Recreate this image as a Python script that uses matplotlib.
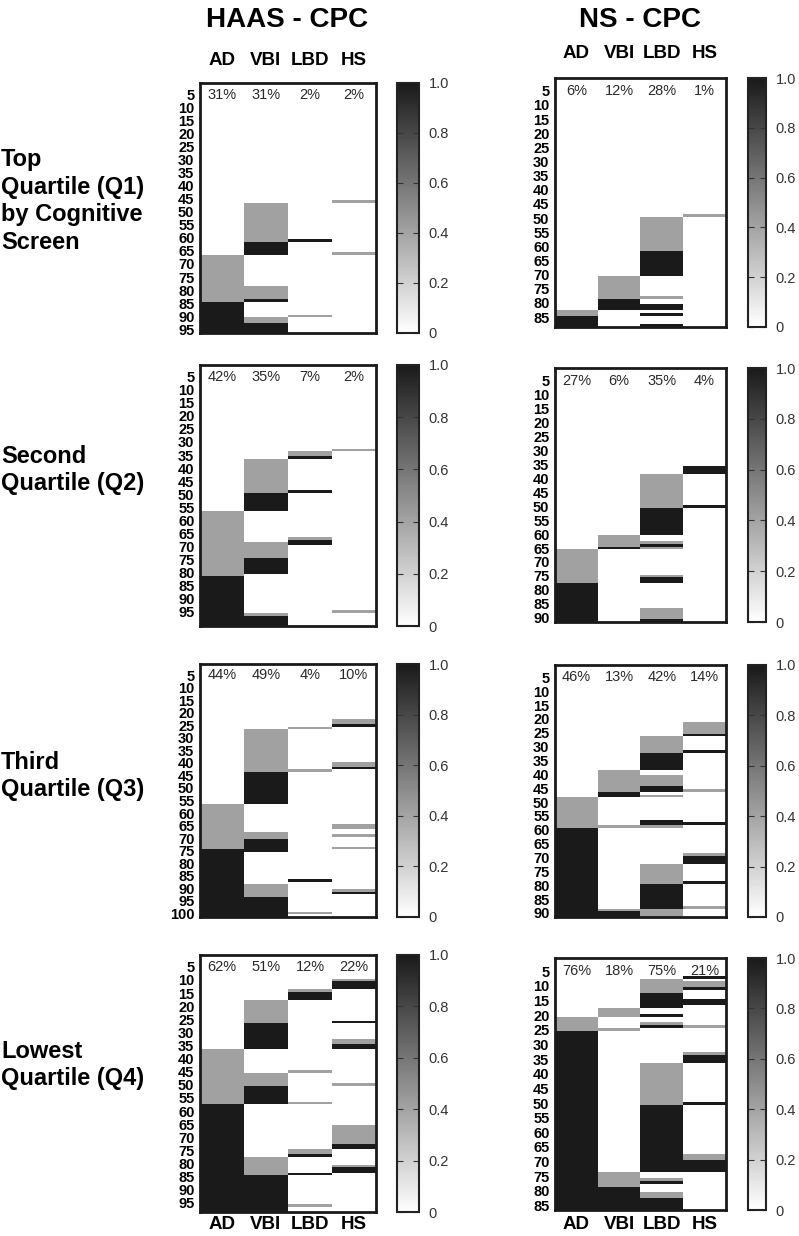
import numpy as np
import matplotlib
matplotlib.use('Agg')
import matplotlib.pyplot as plt
from matplotlib.colors import LinearSegmentedColormap

plt.rcParams['font.family'] = ['Liberation Sans', 'DejaVu Sans']

# ---------------- data ----------------
categories = ['AD', 'VBI', 'LBD', 'HS']
G = 0.41  # intermediate (gray) value

# Each column: runs of (value, number of subjects), top to bottom
haas_q1 = [
    [(0, 66), (G, 18), (1, 12)],
    [(0, 46), (G, 15), (1, 5), (0, 12), (G, 5), (1, 1), (0, 6), (G, 2), (1, 4)],
    [(0, 60), (1, 1), (0, 28), (G, 1), (0, 6)],
    [(0, 45), (G, 1), (0, 19), (G, 1), (0, 30)],
]
haas_q1_pct = ['31%', '31%', '2%', '2%']

ns_q1 = [
    [(0, 82), (G, 2), (1, 4)],
    [(0, 70), (G, 8), (1, 4), (0, 6)],
    [(0, 49), (G, 12), (1, 9), (0, 7), (G, 1), (0, 2), (1, 2), (0, 1), (1, 1), (0, 3), (1, 1)],
    [(0, 48), (G, 1), (0, 39)],
]
ns_q1_pct = ['6%', '12%', '28%', '1%']

haas_q2 = [
    [(0, 56), (G, 25), (1, 19)],
    [(0, 36), (G, 13), (1, 7), (0, 12), (G, 6), (1, 6), (0, 15), (G, 1), (1, 4)],
    [(0, 33), (G, 2), (1, 1), (0, 12), (1, 1), (0, 17), (G, 1), (1, 2), (0, 31)],
    [(0, 32), (G, 1), (0, 61), (G, 1), (0, 5)],
]
haas_q2_pct = ['42%', '35%', '7%', '2%']

ns_q2 = [
    [(0, 65), (G, 12), (1, 14)],
    [(0, 60), (G, 4), (1, 1), (0, 26)],
    [(0, 38), (G, 12), (1, 10), (0, 2), (G, 1), (1, 1), (G, 1), (0, 9), (G, 1), (1, 2), (0, 9), (G, 4), (1, 1)],
    [(0, 35), (1, 3), (0, 11), (1, 1), (0, 41)],
]
ns_q2_pct = ['27%', '6%', '35%', '4%']

haas_q3 = [
    [(0, 56), (G, 18), (1, 27)],
    [(0, 26), (G, 17), (1, 13), (0, 11), (G, 3), (1, 5), (0, 13), (G, 5), (1, 8)],
    [(0, 25), (G, 1), (0, 16), (G, 1), (0, 43), (1, 1), (0, 12), (G, 1), (0, 1)],
    [(0, 22), (G, 2), (1, 1), (0, 14), (G, 2), (1, 1), (0, 22), (G, 2), (0, 2), (G, 1), (0, 4),
     (G, 1), (0, 16), (G, 1), (1, 1), (0, 9)],
]
haas_q3_pct = ['44%', '49%', '4%', '10%']

ns_q3 = [
    [(0, 48), (G, 11), (1, 32)],
    [(0, 38), (G, 8), (1, 2), (0, 10), (G, 1), (0, 29), (G, 1), (1, 2)],
    [(0, 26), (G, 6), (1, 6), (0, 2), (G, 4), (1, 2), (0, 1), (G, 1), (0, 8), (1, 2), (G, 1),
     (0, 13), (G, 7), (1, 9), (G, 3)],
    [(0, 21), (G, 4), (1, 1), (0, 5), (1, 1), (0, 13), (G, 1), (0, 11), (1, 1), (0, 10), (G, 1),
     (1, 3), (0, 6), (1, 1), (0, 8), (G, 1), (0, 3)],
]
ns_q3_pct = ['46%', '13%', '42%', '14%']

haas_q4 = [
    [(0, 36), (G, 21), (1, 41)],
    [(0, 17), (G, 9), (1, 10), (0, 9), (G, 5), (1, 7), (0, 20), (G, 7), (1, 14)],
    [(0, 13), (G, 1), (1, 3), (0, 27), (G, 1), (0, 11), (G, 1), (0, 17), (G, 2), (1, 1), (0, 6),
     (1, 1), (0, 11), (G, 1), (0, 2)],
    [(0, 9), (G, 1), (1, 3), (0, 12), (1, 1), (0, 6), (G, 2), (1, 2), (0, 13), (G, 1), (0, 15),
     (G, 7), (1, 2), (0, 6), (G, 1), (1, 2), (0, 15)],
]
haas_q4_pct = ['62%', '51%', '12%', '22%']

ns_q4 = [
    [(0, 20), (G, 5), (1, 61)],
    [(0, 17), (G, 3), (0, 4), (G, 1), (0, 48), (G, 5), (1, 8)],
    [(0, 7), (G, 5), (1, 5), (0, 2), (1, 1), (0, 2), (G, 1), (1, 1), (0, 12), (G, 14), (1, 23),
     (0, 2), (G, 1), (1, 1), (0, 3), (G, 2), (1, 4)],
    [(0, 6), (1, 1), (0, 1), (G, 2), (1, 1), (0, 3), (1, 2), (0, 7), (G, 1), (0, 8), (G, 1),
     (1, 3), (0, 13), (1, 1), (0, 17), (G, 2), (1, 4), (0, 13)],
]
ns_q4_pct = ['76%', '18%', '75%', '21%']

haas_ticks = [list(range(5, 100, 5)), list(range(5, 100, 5)), list(range(5, 105, 5)), list(range(5, 100, 5))]
ns_ticks = [list(range(5, 90, 5)), list(range(5, 95, 5)), list(range(5, 95, 5)), list(range(5, 90, 5))]
cbar_ticks = [0, 0.2, 0.4, 0.6, 0.8, 1.0]
cbar_labels = ['0', '0.2', '0.4', '0.6', '0.8', '1.0']

row_labels = ['Top\nQuartile (Q1)\nby Cognitive\nScreen', 'Second\nQuartile (Q2)',
              'Third\nQuartile (Q3)', 'Lowest\nQuartile (Q4)']
col_titles = ['HAAS - CPC', 'NS - CPC']

# ---------------- layout ----------------
W, H = 799, 1236
fig = plt.figure(figsize=(W / 100, H / 100), dpi=100)
fig.patch.set_facecolor('white')

cmap = LinearSegmentedColormap.from_list('wk', ['#ffffff', '#1a1a1a'])


def rect(x0, y0, x1, y1):
    return [x0 / W, 1 - y1 / H, (x1 - x0) / W, (y1 - y0) / H]


def build(runs_list):
    cols = [np.concatenate([np.full(n, v, dtype=float) for v, n in runs]) for runs in runs_list]
    return np.column_stack(cols)


haas_panels = [haas_q1, haas_q2, haas_q3, haas_q4]
ns_panels = [ns_q1, ns_q2, ns_q3, ns_q4]
haas_pcts = [haas_q1_pct, haas_q2_pct, haas_q3_pct, haas_q4_pct]
ns_pcts = [ns_q1_pct, ns_q2_pct, ns_q3_pct, ns_q4_pct]

haas_y = [(83, 333), (365, 626), (664, 917), (955, 1212)]
ns_y = [(78, 327), (368, 622), (665, 917), (958, 1210)]
haas_x, haas_cbx = (200, 376), (397, 419)
ns_x, ns_cbx = (555, 726), (748, 766)
top_pads = [10.0, 11.5]
bot_pads = [3.0, 4.0]

for c, (panels, pcts, ticks, ys, xr, cbx) in enumerate([
        (haas_panels, haas_pcts, haas_ticks, haas_y, haas_x, haas_cbx),
        (ns_panels, ns_pcts, ns_ticks, ns_y, ns_x, ns_cbx)]):
    for r in range(4):
        M = build(panels[r])
        N = M.shape[0]
        y0, y1 = ys[r]
        ax = fig.add_axes(rect(xr[0], y0, xr[1], y1))
        im = ax.imshow(M, cmap=cmap, vmin=0, vmax=1, aspect='auto',
                       interpolation='nearest', extent=(-0.5, 3.5, N + 0.5, 0.5))
        ax.set_xlim(-0.5, 3.5)
        ax.set_ylim(N + 0.5, 0.5)
        ax.set_yticks(ticks[r])
        ax.set_yticklabels([str(t) for t in ticks[r]], fontsize=10.5, fontweight='bold')
        ax.tick_params(axis='y', length=0, pad=4)
        ax.set_xticks(range(4))
        if r == 0:
            ax.xaxis.tick_top()
            ax.set_xticklabels(categories, fontsize=13.5, fontweight='bold')
            ax.tick_params(axis='x', length=0, pad=top_pads[c])
        elif r == 3:
            ax.set_xticklabels(categories, fontsize=13.5, fontweight='bold')
            ax.tick_params(axis='x', length=0, pad=bot_pads[c])
        else:
            ax.set_xticklabels([])
            ax.tick_params(axis='x', length=0)
        for s in ax.spines.values():
            s.set_linewidth(2)
            s.set_color('#1a1a1a')
        for i, p in enumerate(pcts[r]):
            ax.text(i, 5, p, ha='center', va='center', fontsize=10.5, color='#2a2a2a')

        cax = fig.add_axes(rect(cbx[0], y0, cbx[1], y1))
        cb = fig.colorbar(im, cax=cax, ticks=cbar_ticks)
        cb.set_ticklabels(cbar_labels)
        cb.outline.set_linewidth(1.5)
        cb.outline.set_edgecolor('#222222')
        cax.tick_params(direction='in', length=4, width=0.8, left=True, right=True,
                        labelleft=False, labelright=True, labelsize=10.5,
                        labelcolor='#333333', pad=7, color='#333333')

# titles
fig.text(287 / W, 1 - 20 / H, col_titles[0], ha='center', va='center',
         fontsize=20, fontweight='bold')
fig.text(640 / W, 1 - 20 / H, col_titles[1], ha='center', va='center',
         fontsize=20, fontweight='bold')

# row labels
row_centers = [201, 470, 776, 1065]
for lab, yc in zip(row_labels, row_centers):
    fig.text(1 / W, 1 - yc / H, lab, ha='left', va='center', fontsize=17,
             fontweight='bold', linespacing=1.25)

fig.savefig('out.png', dpi=100, facecolor='white')
